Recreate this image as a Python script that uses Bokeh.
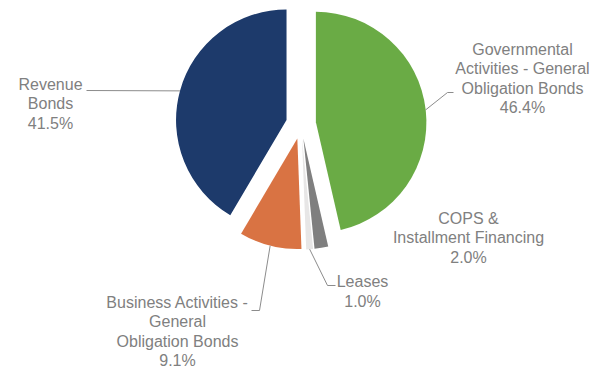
import numpy as np
from bokeh.plotting import figure
from bokeh.models import Range1d, ColumnDataSource
from bokeh.embed import file_html
from bokeh.resources import INLINE
from bokeh.core.properties import value

# ---- data ----
categories = [
    "Governmental Activities - General Obligation Bonds",
    "COPS & Installment Financing",
    "Leases",
    "Business Activities - General Obligation Bonds",
    "Revenue Bonds",
]
label_names = [
    "Governmental\nActivities - General\nObligation Bonds",
    "COPS &\nInstallment Financing",
    "Leases",
    "Business Activities -\nGeneral\nObligation Bonds",
    "Revenue\nBonds",
]
shares = [46.4, 2.0, 1.0, 9.1, 41.5]
colors = ["#6AAB45", "#7F7F7F", "#E7E6E6", "#D97343", "#1D3A6B"]

# ---- layout (screen pixels, y down) ----
W, H = 592, 370
CX, CY = 300.5, 123.5
R = 110.5
EXPLODE = 15.0
label_pos = [(522, 78), (468, 237.5), (362, 291), (177, 331), (50, 103.5)]
# elbow points of leader lines (None = no leader)
leader_elbows = [
    [(447, 92), (453, 92)],
    None,
    [(327, 285), (335, 285)],
    [(259, 310), (251, 310)],
    [(86, 90)],
]

vals = np.array(shares, dtype=float)
frac = vals / vals.sum()
ends = np.cumsum(frac) * 360.0
starts = ends - frac * 360.0
mids = (starts + ends) / 2.0

def ydata(y):
    return H - y

cx = CX + EXPLODE * np.sin(np.radians(mids))
cy_screen = CY - EXPLODE * np.cos(np.radians(mids))

src = ColumnDataSource(dict(
    x=cx,
    y=[ydata(v) for v in cy_screen],
    start=np.radians(90.0 - ends),
    end=np.radians(90.0 - starts),
    color=colors,
    name=categories,
))

p = figure(width=W, height=H, x_range=Range1d(0, W), y_range=Range1d(0, H),
           x_axis_type=None, y_axis_type=None, min_border=0,
           toolbar_location=None, output_backend="svg")
p.grid.visible = False
p.outline_line_color = None
p.background_fill_color = "white"
p.border_fill_color = "white"

p.wedge(x="x", y="y", radius=R, start_angle="start", end_angle="end",
        direction="anticlock", fill_color="color", line_color=None, source=src)

# leader lines
xs, ys = [], []
for i, elbows in enumerate(leader_elbows):
    if elbows is None:
        continue
    sx = cx[i] + R * np.sin(np.radians(mids[i]))
    sy = cy_screen[i] - R * np.cos(np.radians(mids[i]))
    pts = [(sx, sy)] + elbows
    xs.append([pt[0] for pt in pts])
    ys.append([ydata(pt[1]) for pt in pts])
p.multi_line(xs=xs, ys=ys, line_color="#8C8C8C", line_width=1)

texts = [f"{n}\n{v:.1f}%" for n, v in zip(label_names, shares)]
lsrc = ColumnDataSource(dict(
    x=[lp[0] for lp in label_pos],
    y=[ydata(lp[1]) for lp in label_pos],
    text=texts,
))
p.text(x="x", y="y", text="text", source=lsrc, text_align="center",
       text_baseline="middle", text_font=value("Liberation Sans"),
       text_font_size="16px", text_color="#808080", text_line_height=1.15)

open("out.html", "w").write(file_html(p, INLINE))
